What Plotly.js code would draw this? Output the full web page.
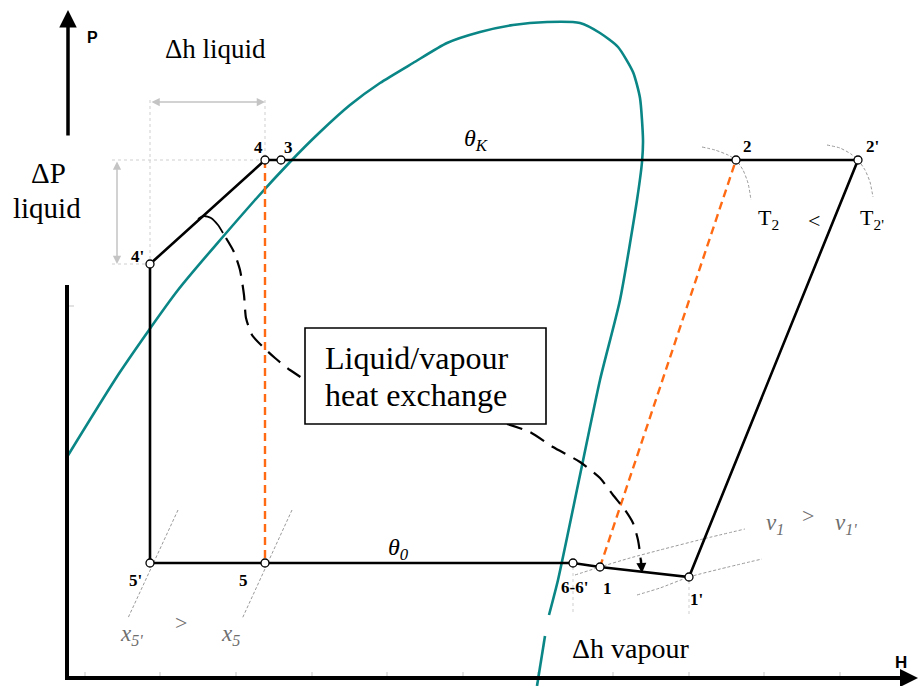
<!DOCTYPE html>
<html>
<head>
<meta charset="utf-8">
<script src="https://cdn.plot.ly/plotly-3.0.1.min.js"></script>
<style>html,body{margin:0;padding:0;background:#fff;}#chart{width:920px;height:686px;}</style>
</head>
<body>
<div id="chart"></div>
<script>
// ---------- DATA (H = enthalpy axis units, P = pressure axis units, P grows downward on this reversed scale) ----------
const stateNames = ["4", "3", "2", "2'", "4'", "5'", "5", "6-6'", "1", "1'"];
const stateH     = [265, 281, 736, 858, 150, 150, 265, 573, 600, 689];
const stateP     = [160, 160, 160, 160, 264, 563, 563, 563, 567, 577];

// refrigeration cycle path, by state name
const cyclePath = ["4'", "4", "3", "2", "2'", "1'", "1", "6-6'", "5", "5'", "4'"];
// reference (no-exchanger) cycle legs
const refLegA = ["4", "5"];
const refLegB = ["1", "2"];

// saturation dome (liquid + vapour branches)
const domeH = [67, 120, 178, 255, 290, 319, 350, 380, 413, 447, 480, 513, 547, 580, 600, 618, 633, 640, 643, 642, 637, 620, 600, 579, 558, 549, null, 545, 537];
const domeP = [457, 372, 290, 200, 162, 133, 105, 83, 63, 43, 32, 25, 22, 23, 33, 47, 72, 98, 140, 162, 200, 300, 380, 480, 580, 615, null, 636, 686];

// isotherms T2 and T2'
const isoT2H  = [702, 715, 728, 736, 743, 748, 751];
const isoT2P  = [147, 150, 155, 160, 170, 183, 200];
const isoT2pH = [827, 840, 851, 858, 865, 870, 873];
const isoT2pP = [145, 148, 154, 160, 170, 182, 197];
// isochores v1 and v1'
const isoV1H  = [575, 600, 630, 660, 703, 745];
const isoV1P  = [575, 567, 558, 550, 539, 529];
const isoV1pH = [637, 660, 689, 720, 762];
const isoV1pP = [595, 588, 577, 569, 559];
// quality lines x5' and x5
const isoX5pH = [178, 128];
const isoX5pP = [510, 618];
const isoX5H  = [292, 242];
const isoX5P  = [510, 619];

// heat-exchange link (dashed curve, two pieces around the label box)
const linkArcH = [198, 204, 211, 218, 223];
const linkArcP = [219, 216, 218, 225, 233];
const linkAH = [226, 234, 240, 244, 246, 252, 262, 275, 290, 305];
const linkAP = [238, 252, 270, 295, 318, 335, 346, 358, 370, 380];
const linkBH = [507, 530, 553, 580, 600, 613, 625, 633, 638, 640, 641];
const linkBP = [424, 432, 447, 462, 478, 495, 510, 523, 540, 553, 563];

// axis tick positions
const tickH = [85, 160, 236, 312, 387, 463, 538, 613, 689, 764, 840];
const tickP = [306];

// ---------- helpers ----------
const idx = n => stateNames.indexOf(n);
const pathH = p => p.map(n => stateH[idx(n)]);
const pathP = p => p.map(n => stateP[idx(n)]);

const BLACK = '#000000', TEAL = '#0a8686', ORANGE = '#ff6a13', GREY = '#9a9a9a', LGREY = '#cfcfcf';

function line(x, y, color, width, dash, shape) {
  return {x: x, y: y, type: 'scatter', mode: 'lines', hoverinfo: 'skip',
          line: {color: color, width: width, dash: dash || 'solid', shape: shape || 'linear', smoothing: 0.6},
          connectgaps: false};
}

const traces = [];
// dotted construction guides (from state coordinates)
const s4 = idx("4"), s4p = idx("4'"), s6 = idx("6-6'"), s1p = idx("1'");
traces.push(line([stateH[s4p], stateH[s4p]], [100, stateP[s4p]], LGREY, 1, 'dot'));
traces.push(line([stateH[s4], stateH[s4]], [100, stateP[s4]], LGREY, 1, 'dot'));
traces.push(line([112, stateH[s4]], [stateP[s4], stateP[s4]], LGREY, 1, 'dot'));
traces.push(line([112, stateH[s4p]], [stateP[s4p], stateP[s4p]], LGREY, 1, 'dot'));
traces.push(line([stateH[s6], stateH[s6]], [stateP[s6] + 4, 615], LGREY, 1, 'dot'));
traces.push(line([stateH[s1p], stateH[s1p]], [stateP[s1p] + 4, 615], LGREY, 1, 'dot'));

// grey dashed iso-lines
[[isoT2H, isoT2P], [isoT2pH, isoT2pP], [isoV1H, isoV1P], [isoV1pH, isoV1pP], [isoX5pH, isoX5pP], [isoX5H, isoX5P]]
  .forEach(a => traces.push(line(a[0], a[1], GREY, 1, '3px,2px', 'spline')));

// axis ticks
tickH.forEach(h => traces.push(line([h, h], [672, 678], LGREY, 1.2)));
tickP.forEach(p => traces.push(line([67, 74], [p, p], LGREY, 1.2)));

// saturation dome
traces.push(line(domeH, domeP, TEAL, 2.6, 'solid', 'spline'));

// orange reference legs
traces.push(line(pathH(refLegA), pathP(refLegA), ORANGE, 2.4, '8px,5px'));
traces.push(line(pathH(refLegB), pathP(refLegB), ORANGE, 2.4, '8px,5px'));

// heat exchange link
traces.push(line(linkArcH, linkArcP, BLACK, 1.8, 'solid', 'spline'));
traces.push(line(linkAH, linkAP, BLACK, 2.2, '16px,9px', 'spline'));
traces.push(line(linkBH, linkBP, BLACK, 2.2, '16px,9px', 'spline'));

// axes
traces.push(line([67, 67], [285, 680], BLACK, 4));
traces.push(line([65, 905], [678, 678], BLACK, 4));

// cycle
traces.push(line(pathH(cyclePath), pathP(cyclePath), BLACK, 2.6));
// state markers
traces.push({x: stateH, y: stateP, type: 'scatter', mode: 'markers', hoverinfo: 'skip',
  marker: {size: 8, color: 'white', line: {color: BLACK, width: 1.3}}});

// ---------- annotations ----------
const SERIF = 'Liberation Serif, Times New Roman, serif';
const SANS = 'Liberation Sans, Arial, sans-serif';
const ann = [];
function txt(x, y, text, size, color, family, xanchor) {
  ann.push({x: x, y: y, xref: 'x', yref: 'y', text: text, showarrow: false,
    xanchor: xanchor || 'center', yanchor: 'middle',
    font: {family: family || SERIF, size: size, color: color || BLACK}});
}
function arrow(x, y, ax, ay, color, width, head, side, size) {
  ann.push({x: x, y: y, ax: ax, ay: ay, xref: 'x', yref: 'y', axref: 'x', ayref: 'y',
    text: '', showarrow: true, arrowhead: head, arrowside: side || 'end',
    arrowwidth: width, arrowcolor: color, arrowsize: size || 1, standoff: 0, startstandoff: 0});
}

// state labels
const labelOffset = {"4": [-7, -13], "3": [7, -13], "2": [11, -14], "2'": [14, -14], "4'": [-13, -8],
  "5'": [-15, 17], "5": [-22, 17], "6-6'": [1, 24], "1": [7, 21], "1'": [7, 22]};
stateNames.forEach((n, i) => {
  const o = labelOffset[n];
  txt(stateH[i] + o[0], stateP[i] + o[1], '<b>' + n + '</b>', 17);
});

// titles / notes
txt(215, 49, 'Δh liquid', 27);
txt(48, 173, 'ΔP', 29);
txt(47, 208, 'liquid', 29);
txt(630, 648, 'Δh vapour', 28);
txt(92, 37, '<b>P</b>', 16, BLACK, SANS);
txt(901, 662, '<b>H</b>', 17, BLACK, SANS);
txt(476, 140, '<i>θ<sub>K</sub></i>', 24);
txt(398, 549, '<i>θ<sub>0</sub></i>', 24);
txt(768, 219, 'T<sub>2</sub>', 22);
txt(814, 220, '<', 22);
txt(872, 219, 'T<sub>2\'</sub>', 22);
txt(775, 524, '<i>v<sub>1</sub></i>', 23, '#6e6e6e');
txt(808, 515, '>', 22, '#6e6e6e');
txt(846, 524, '<i>v<sub>1\'</sub></i>', 23, '#6e6e6e');
txt(131, 635, '<i>x<sub>5\'</sub></i>', 23, '#6e6e6e');
txt(181, 622, '>', 22, '#6e6e6e');
txt(230, 635, '<i>x<sub>5</sub></i>', 23, '#6e6e6e');
txt(416, 358, 'Liquid/vapour', 32);
txt(416, 395, 'heat exchange', 32);

// arrows
arrow(68, 10, 68, 137, BLACK, 3.5, 2, 'end', 1);
arrow(918, 678, 880, 678, BLACK, 4, 2, 'end', 0.9);
arrow(265, 102, 150, 102, '#c4c4c4', 1.5, 2, 'end+start', 1.1);
arrow(117, 264, 117, 160, '#c4c4c4', 1.5, 2, 'end+start', 1.1);
arrow(642, 573, 641, 558, BLACK, 2, 2, 'end', 1);

const layout = {
  width: 920, height: 686,
  margin: {l: 0, r: 0, t: 0, b: 0},
  paper_bgcolor: 'white', plot_bgcolor: 'white',
  showlegend: false,
  xaxis: {range: [0, 920], visible: false, fixedrange: true},
  yaxis: {range: [686, 0], visible: false, fixedrange: true},
  shapes: [{type: 'rect', xref: 'x', yref: 'y', x0: 305, x1: 546, y0: 328, y1: 424,
            fillcolor: 'white', line: {color: BLACK, width: 1.6}, layer: 'above'}],
  annotations: ann
};

Plotly.newPlot('chart', traces, layout, {staticPlot: true, displayModeBar: false});
</script>
</body>
</html>
